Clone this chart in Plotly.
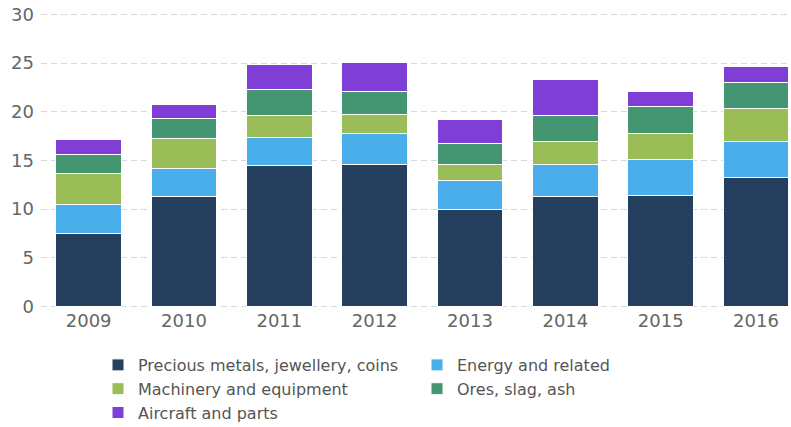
import plotly.graph_objects as go

years = ["2009", "2010", "2011", "2012", "2013", "2014", "2015", "2016"]

precious_metals = [7.5, 11.3, 14.5, 14.6, 10.0, 11.3, 11.45, 13.3]
energy = [3.0, 2.9, 2.9, 3.2, 2.9, 3.3, 3.7, 3.65]
machinery = [3.2, 3.05, 2.2, 1.9, 1.7, 2.35, 2.65, 3.35]
ores = [1.95, 2.05, 2.65, 2.4, 2.15, 2.65, 2.75, 2.75]
aircraft = [1.5, 1.5, 2.65, 3.0, 2.5, 3.7, 1.5, 1.6]

# (name, values, colour, legend column)
series = [
    ("Precious metals, jewellery, coins", precious_metals, "#24405E", "legend"),
    ("Energy and related", energy, "#4AAEEA", "legend2"),
    ("Machinery and equipment", machinery, "#9BBD58", "legend"),
    ("Ores, slag, ash", ores, "#449672", "legend2"),
    ("Aircraft and parts", aircraft, "#7F3ED5", "legend"),
]

fig = go.Figure()
for name, vals, color, leg in series:
    fig.add_trace(go.Bar(
        x=years, y=vals, name=name, legend=leg, legendgroup=name,
        marker=dict(color=color, line=dict(color="white", width=1)),
    ))

legend_style = dict(
    orientation="v",
    xref="container", yref="container",
    xanchor="left", yanchor="top",
    font=dict(size=16, color="#555555"),
    traceorder="normal",
    tracegroupgap=3,
    itemclick=False, itemdoubleclick=False,
    bgcolor="rgba(0,0,0,0)",
)

fig.update_layout(
    width=791, height=427,
    barmode="stack",
    bargap=0.31,
    plot_bgcolor="white",
    paper_bgcolor="white",
    font=dict(family="DejaVu Sans", color="#666666"),
    margin=dict(l=41, r=0, t=13, b=119, autoexpand=False),
    showlegend=True,
    legend=dict(x=98 / 791, y=1 - 348 / 427, **legend_style),
    legend2=dict(x=417 / 791, y=1 - 348 / 427, **legend_style),
)
fig.update_xaxes(
    type="category",
    range=[-0.5, 7.367],
    tickfont=dict(size=18, color="#666666"),
    showgrid=False, showline=False, ticks="",
)
# small padding on the value range keeps the 0 and 30 gridlines drawn
fig.update_yaxes(
    range=[-0.15, 30.15],
    tickvals=[0, 5, 10, 15, 20, 25, 30],
    tickfont=dict(size=18, color="#666666"),
    showgrid=True, gridcolor="#D9D9D9", griddash="6px,4px", gridwidth=1,
    zeroline=False, showline=False, ticks="", ticklabelstandoff=6,
)

fig.write_html("out.html")
